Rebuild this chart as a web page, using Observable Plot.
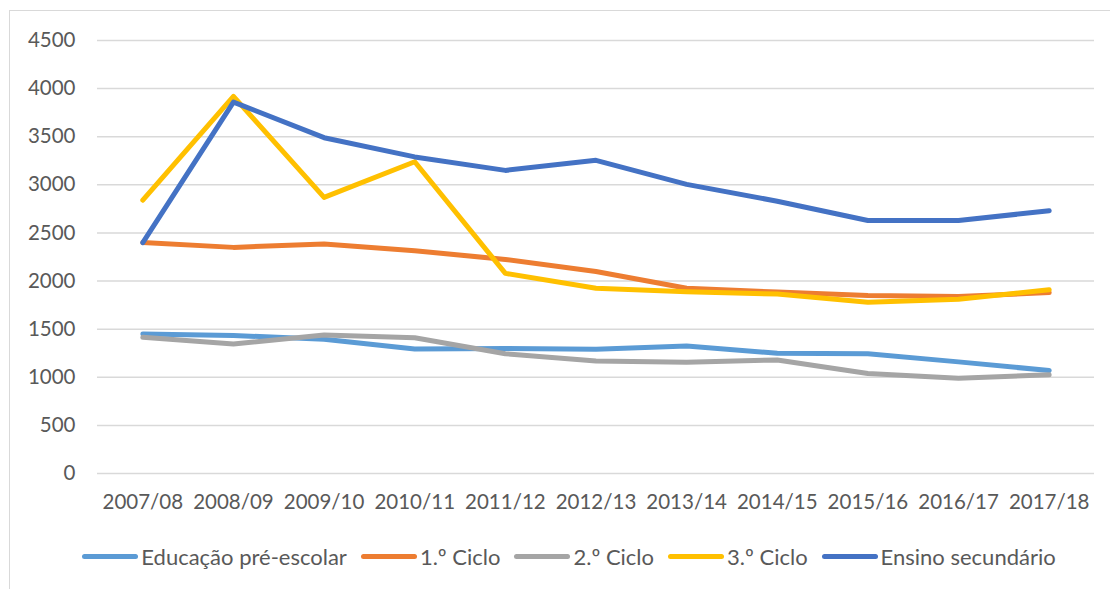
<!DOCTYPE html>
<html>
<head>
<meta charset="utf-8">
<script src="https://cdn.jsdelivr.net/npm/d3@7"></script>
<script src="https://cdn.jsdelivr.net/npm/@observablehq/plot@0.6"></script>
<style>
  html, body { margin: 0; padding: 0; background: #fff; }
  body { width: 1110px; height: 589px; position: relative; overflow: hidden; font-family: Lato, "Open Sans", sans-serif; }
  #frame { position: absolute; left: 9px; top: 10px; width: 1200px; height: 700px; border: 1px solid #d9d9d9; box-sizing: border-box; }
  #chart { position: absolute; left: 0; top: 0; }
  #legend { position: absolute; left: 0; top: 543px; width: 1110px; display: flex; justify-content: center; align-items: center; gap: 14px; font-size: 22px; color: #595959; padding-left: 28px; box-sizing: border-box; }
  .item { display: flex; align-items: center; }
  .sw { width: 56px; height: 5px; border-radius: 3px; margin-right: 3px; }
</style>
</head>
<body>
<div id="frame"></div>
<div id="chart"></div>
<div id="legend"></div>
<script>
const categories = ["2007/08","2008/09","2009/10","2010/11","2011/12","2012/13","2013/14","2014/15","2015/16","2016/17","2017/18"];
const seriesNames = ["Educação pré-escolar","1.º Ciclo","2.º Ciclo","3.º Ciclo","Ensino secundário"];
const seriesColors = ["#5B9BD5","#ED7D31","#A5A5A5","#FFC000","#4472C4"];
const preEscolar = [1450,1435,1395,1295,1300,1290,1325,1250,1245,1160,1070];
const ciclo1 = [2400,2350,2385,2315,2225,2100,1925,1885,1850,1840,1880];
const ciclo2 = [1415,1345,1440,1410,1245,1170,1155,1180,1040,990,1025];
const ciclo3 = [2840,3920,2870,3240,2080,1925,1890,1865,1780,1810,1910];
const secundario = [2400,3860,3490,3290,3150,3255,3005,2830,2630,2630,2730];
const yTicks = [0,500,1000,1500,2000,2500,3000,3500,4000,4500];

const seriesValues = [preEscolar, ciclo1, ciclo2, ciclo3, secundario];
const data = [];
seriesNames.forEach((name, i) => {
  categories.forEach((c, j) => data.push({series: name, year: c, value: seriesValues[i][j]}));
});

const chart = Plot.plot({
  width: 1110,
  height: 520,
  marginLeft: 97,
  marginRight: 16,
  marginTop: 40,
  marginBottom: 47,
  style: {fontFamily: "Lato, 'Open Sans', sans-serif", fontSize: "20.5px", color: "#595959", background: "transparent"},
  x: {type: "point", domain: categories, padding: 0.5, round: false},
  y: {domain: [0, 4500]},
  color: {domain: seriesNames, range: seriesColors},
  marks: [
    Plot.gridY(yTicks, {stroke: "#d9d9d9", strokeOpacity: 1, strokeWidth: 1.5}),
    Plot.axisY(yTicks, {tickSize: 0, tickPadding: 22, label: null, tickFormat: d => String(d)}),
    Plot.axisX({tickSize: 0, tickPadding: 21, label: null}),
    ...seriesNames.map(name => Plot.line(data.filter(d => d.series === name), {
      x: "year", y: "value", stroke: "series", strokeWidth: 5, strokeLinecap: "round", strokeLinejoin: "round"
    }))
  ]
});
document.getElementById("chart").appendChild(chart);

const legend = document.getElementById("legend");
seriesNames.forEach((name, i) => {
  const item = document.createElement("div");
  item.className = "item";
  const sw = document.createElement("div");
  sw.className = "sw";
  sw.style.background = seriesColors[i];
  const lab = document.createElement("span");
  lab.textContent = name;
  item.appendChild(sw);
  item.appendChild(lab);
  legend.appendChild(item);
});
</script>
</body>
</html>
